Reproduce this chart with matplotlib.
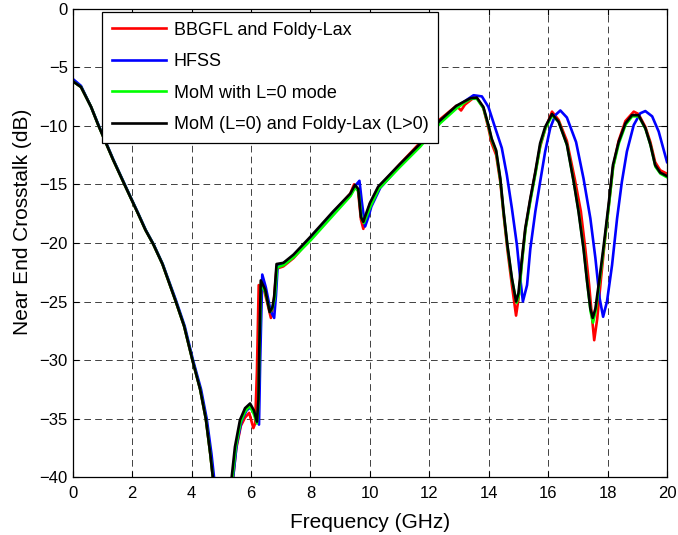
import matplotlib
matplotlib.use('Agg')
import matplotlib.pyplot as plt

plt.rcParams['font.family'] = ['Liberation Sans', 'DejaVu Sans']

# near end crosstalk (dB) vs frequency (GHz), one list pair per solver
f_bbgfl = [0, 0.28, 0.62, 0.87, 1.36, 1.75, 2.2, 2.45, 2.71, 3.02, 3.47, 3.75, 4.03, 4.29, 4.48, 4.63, 4.73, 4.8,
           5.35, 5.4, 5.5, 5.66, 5.8, 5.94, 6.08, 6.14, 6.2, 6.26, 6.45, 6.67, 6.76, 6.86, 7.09, 7.43, 7.99,
           8.77, 9.34, 9.47, 9.6, 9.7, 9.78, 9.88, 10.0, 10.28, 11.0, 11.67, 12.34, 12.91, 13.07, 13.2, 13.5,
           13.62, 13.82, 13.99, 14.1, 14.25, 14.39, 14.5, 14.63, 14.78, 14.92, 15.0, 15.12, 15.23, 15.4,
           15.57, 15.73, 15.9, 16.13, 16.35, 16.63, 16.9, 17.1, 17.25, 17.38, 17.47, 17.55, 17.65, 17.78,
           17.9, 18.05, 18.18, 18.37, 18.6, 18.88, 19.04, 19.27, 19.44, 19.6, 19.77, 20.0]
db_bbgfl = [-6.2, -6.7, -8.4, -10.0, -12.9, -15.05, -17.5, -18.9, -20.1, -21.8, -25.0, -27.1, -30.0, -32.5, -35.0, -38.0, -40.3, -41.5,
            -41.5, -40.0, -37.6, -35.6, -34.9, -34.5, -35.8, -35.4, -31.0, -23.6, -24.1, -26.4, -25.2, -22.2, -22.0, -21.3, -19.7,
            -17.4, -15.8, -15.0, -15.5, -18.0, -18.8, -17.7, -16.7, -15.3, -13.3, -11.5, -9.5, -8.3, -8.7, -8.2, -7.6,
            -7.7, -8.5, -10.2, -11.5, -12.5, -14.8, -17.6, -20.6, -23.6, -26.2, -24.8, -21.5, -18.9, -16.3,
            -14.0, -11.8, -10.3, -8.8, -9.5, -11.3, -14.6, -17.3, -20.5, -23.6, -26.2, -28.3, -26.5, -23.0,
            -20.0, -16.6, -13.6, -11.3, -9.6, -8.8, -9.0, -10.1, -11.4, -13.1, -13.8, -14.1]

f_hfss = [0, 0.28, 0.62, 0.88, 1.37, 1.76, 2.21, 2.46, 2.72, 3.03, 3.49, 3.77, 4.05, 4.32, 4.51, 4.67, 4.77, 4.85,
          5.35, 5.4, 5.52, 5.68, 5.85, 5.99, 6.12, 6.27, 6.31, 6.38, 6.5, 6.66, 6.78, 6.84, 6.9, 7.12, 7.45, 8.0,
          8.78, 9.35, 9.55, 9.65, 9.73, 9.84, 9.95, 10.05, 10.35, 11.02, 11.69, 12.36, 12.91, 13.2, 13.49,
          13.77, 13.99, 14.22, 14.44, 14.61, 14.78, 14.95, 15.06, 15.15, 15.29, 15.4, 15.57, 15.73, 15.9,
          16.07, 16.24, 16.41, 16.63, 16.94, 17.19, 17.42, 17.59, 17.73, 17.85, 17.98, 18.15, 18.32, 18.48,
          18.65, 18.88, 19.1, 19.27, 19.5, 19.72, 20.0]
db_hfss = [-6.0, -6.6, -8.4, -10.0, -12.9, -15.05, -17.5, -18.9, -20.1, -21.8, -25.0, -27.1, -30.0, -32.5, -35.0, -38.0, -40.3, -41.5,
           -41.5, -40.0, -37.2, -35.2, -34.3, -34.0, -34.6, -35.5, -30.0, -22.7, -23.8, -25.8, -26.4, -24.5, -21.9, -21.7, -21.1, -19.6,
           -17.4, -15.9, -15.0, -14.7, -16.5, -18.6, -17.8, -16.9, -15.3, -13.4, -11.7, -9.7, -8.4, -7.9, -7.4,
           -7.5, -8.4, -10.2, -11.9, -14.2, -17.05, -20.2, -23.0, -25.0, -23.6, -20.5, -17.3, -14.8, -12.2,
           -10.2, -9.1, -8.7, -9.3, -11.4, -14.5, -17.9, -21.3, -24.7, -26.3, -25.0, -21.9, -17.9, -14.8,
           -12.2, -9.94, -8.94, -8.75, -9.2, -10.5, -13.1]

f_mom = [0, 0.28, 0.62, 0.87, 1.36, 1.75, 2.2, 2.45, 2.71, 3.02, 3.47, 3.75, 4.03, 4.29, 4.48, 4.63, 4.73, 4.8,
         5.33, 5.38, 5.49, 5.65, 5.8, 5.95, 6.08, 6.2, 6.25, 6.28, 6.34, 6.48, 6.64, 6.72, 6.8, 6.88, 7.1, 7.45, 8.0,
         8.78, 9.35, 9.5, 9.62, 9.72, 9.8, 9.88, 10.02, 10.3, 11.02, 11.69, 12.36, 12.93, 13.2, 13.4, 13.6,
         13.82, 13.99, 14.1, 14.25, 14.39, 14.5, 14.63, 14.78, 14.94, 15.02, 15.13, 15.24, 15.41,
         15.58, 15.74, 15.91, 16.14, 16.36, 16.64, 16.87, 17.03, 17.2, 17.32, 17.43, 17.51, 17.6, 17.74,
         17.88, 18.04, 18.19, 18.38, 18.61, 18.83, 19.05, 19.28, 19.45, 19.61, 19.78, 20.0]
db_mom = [-6.2, -6.7, -8.4, -10.0, -12.9, -15.05, -17.5, -18.9, -20.1, -21.8, -25.0, -27.1, -30.0, -32.5, -35.0, -38.0, -40.3, -41.5,
          -41.5, -40.0, -37.4, -35.3, -34.4, -33.9, -34.5, -35.4, -33.8, -29.5, -23.4, -24.2, -25.9, -25.6, -24.7, -22.1, -21.9, -21.2, -19.8,
          -17.6, -16.0, -15.3, -15.6, -17.9, -18.3, -17.8, -16.9, -15.4, -13.5, -11.8, -9.8, -8.5, -8.0, -7.7, -7.7,
          -8.5, -10.0, -11.2, -12.2, -14.6, -17.4, -20.3, -23.1, -25.1, -24.4, -21.4, -18.8, -16.3,
          -14.0, -11.6, -10.2, -9.1, -9.7, -11.7, -14.9, -17.4, -20.6, -23.5, -25.9, -26.8, -25.8, -23.1,
          -20.3, -16.9, -13.5, -11.5, -9.9, -9.2, -9.2, -10.3, -11.7, -13.5, -14.1, -14.4]

f_hybrid = [0, 0.28, 0.62, 0.87, 1.36, 1.75, 2.2, 2.45, 2.71, 3.02, 3.47, 3.75, 4.03, 4.29, 4.48, 4.63, 4.73, 4.8,
            5.3, 5.35, 5.46, 5.63, 5.8, 5.97, 6.1, 6.2, 6.25, 6.28, 6.33, 6.48, 6.63, 6.72, 6.78, 6.86, 7.09, 7.43, 7.99,
            8.77, 9.34, 9.5, 9.61, 9.7, 9.78, 9.86, 10.0, 10.28, 11.0, 11.67, 12.34, 12.91, 13.2, 13.38, 13.6,
            13.82, 13.99, 14.1, 14.25, 14.39, 14.5, 14.63, 14.78, 14.92, 15.0, 15.12, 15.23, 15.4,
            15.57, 15.73, 15.9, 16.13, 16.35, 16.63, 16.86, 17.02, 17.19, 17.31, 17.42, 17.5, 17.59, 17.73,
            17.87, 18.03, 18.18, 18.37, 18.6, 18.82, 19.04, 19.27, 19.44, 19.6, 19.77, 20.0]
db_hybrid = [-6.2, -6.7, -8.4, -10.0, -12.9, -15.05, -17.5, -18.9, -20.1, -21.8, -25.0, -27.1, -30.0, -32.5, -35.0, -38.0, -40.3, -41.5,
             -41.5, -40.0, -37.4, -35.1, -34.1, -33.7, -34.3, -35.25, -33.4, -29.0, -23.2, -24.0, -25.9, -25.5, -24.6, -21.8, -21.7, -21.0, -19.5,
             -17.3, -15.8, -15.05, -15.4, -17.8, -18.2, -17.6, -16.6, -15.2, -13.3, -11.6, -9.6, -8.3, -7.9, -7.66, -7.6,
             -8.4, -9.94, -11.1, -12.1, -14.5, -17.3, -20.2, -23.0, -25.0, -24.3, -21.3, -18.75, -16.2,
             -13.9, -11.5, -10.1, -9.0, -9.66, -11.6, -14.8, -17.3, -20.5, -23.3, -25.6, -26.4, -25.6, -23.0,
             -20.2, -16.8, -13.35, -11.4, -9.8, -9.1, -9.1, -10.2, -11.6, -13.35, -14.0, -14.3]

labels = ['BBGFL and Foldy-Lax', 'HFSS', 'MoM with L=0 mode', 'MoM (L=0) and Foldy-Lax (L>0)']

fig = plt.figure(figsize=(6.78, 5.35), dpi=100)
ax = fig.add_axes([0.1072, 0.1078, 0.8766, 0.8763])

ax.plot(f_bbgfl, db_bbgfl, color='#ff0000', lw=1.9, label=labels[0])
ax.plot(f_hfss, db_hfss, color='#0000ff', lw=1.9, label=labels[1])
ax.plot(f_mom, db_mom, color='#00ff00', lw=1.9, label=labels[2])
ax.plot(f_hybrid, db_hybrid, color='black', lw=1.9, label=labels[3])

ax.set_xlim(0, 20)
ax.set_ylim(-40, 0)
ax.set_xticks(range(0, 21, 2))
ax.set_yticks(range(-40, 1, 5))
ax.tick_params(direction='in', top=True, right=True, labelsize=12, length=4)
ax.tick_params(axis='x', pad=6)
ax.grid(True, color='#222222', linestyle=(0, (8, 5)), lw=0.6)
for s in ax.spines.values():
    s.set_linewidth(0.9)

ax.set_xlabel('Frequency (GHz)', fontsize=15, labelpad=9)
ax.set_ylabel('Near End Crosstalk (dB)', fontsize=15)
ax.yaxis.set_label_coords(-0.068, 0.545)

leg = ax.legend(loc='upper left', bbox_to_anchor=(0.05, 0.993), borderaxespad=0,
                fontsize=13, handlelength=3.0, handletextpad=0.4, labelspacing=0.8,
                borderpad=0.55, fancybox=False, framealpha=1, edgecolor='black')
leg.get_frame().set_linewidth(0.9)

fig.savefig('out.png', dpi=100)
